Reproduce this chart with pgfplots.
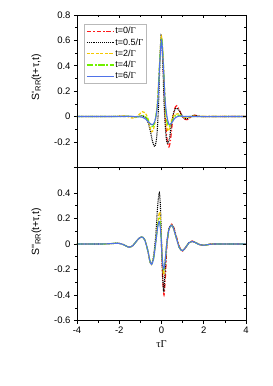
\documentclass[border=0pt]{standalone}
\usepackage{pgfplots}
\pgfplotsset{compat=1.18}
\usepackage{fontspec}
\setmainfont{Liberation Sans}
\newfontfamily\grk{Liberation Serif}
\definecolor{cred}{HTML}{FF1A1A}
\definecolor{cyel}{HTML}{F5C800}
\definecolor{cgrn}{HTML}{70F000}
\definecolor{cblu}{HTML}{4F72E8}
\newcommand{\sub}[1]{\raisebox{-0.3ex}{\fontsize{7.5}{8}\selectfont #1}}
\pgfplotsset{
  base/.style={scale only axis, width=169pt, xmin=-4, xmax=4,
    xtick={-4,-2,0,2,4}, minor x tick num=1, minor y tick num=1,
    major tick length=3pt, minor tick length=1.8pt,
    every tick/.style={black, line width=0.6pt},
    axis line style={line width=0.7pt},
    tick label style={font=\fontsize{9.5}{10}\selectfont},
    label style={font=\fontsize{10.5}{11}\selectfont},
    /pgf/number format/assume math mode=true,
    yticklabel style={/pgf/number format/fixed, /pgf/number format/precision=1},
  },
  mainax/.style={base, tick align=outside, xtick pos=left, ytick pos=left},
  mirror/.style={base, tick align=inside, xtick pos=right, ytick pos=right,
    xticklabels={}, yticklabels={}},
  sred/.style={color=cred, draw=cred, line width=1.2pt, dash pattern=on 4.5pt off 2pt on 1.2pt off 2pt, smooth, tension=0.5},
  sblk/.style={color=black, draw=black, line width=1.1pt, dash pattern=on 1pt off 0.9pt, smooth, tension=0.5},
  syel/.style={color=cyel, draw=cyel, line width=1.2pt, dash pattern=on 3pt off 1.5pt, smooth, tension=0.5},
  sgrn/.style={color=cgrn, draw=cgrn, line width=1.2pt, dash pattern=on 6pt off 2pt on 1.5pt off 2pt, smooth, tension=0.5},
  sblu/.style={color=cblu, draw=cblu, line width=1.1pt, smooth, tension=0.5},
}
\begin{document}
\begin{tikzpicture}
\path[use as bounding box] (0,0) rectangle (273pt,386pt);
% ---------- top panel ----------
\begin{axis}[mainax, at={(77pt,218.7pt)}, anchor=south west, height=152.3pt,
  ymin=-0.4, ymax=0.8, ytick={-0.2,0,0.2,0.4,0.6,0.8}, extra y ticks={-0.4}, extra y tick labels={},
  xticklabels={},
  ylabel={S\textquotesingle\sub{RR}(t+τ,t)},
  ylabel style={at={(ticklabel cs:0.59)}},
  legend style={at={(rel axis cs:0.041,0.941)}, anchor=north west,
    draw=gray!55, line width=0.6pt, inner xsep=2pt, inner ysep=2pt,
    font=\fontsize{9}{10}\selectfont, row sep=1.2pt,
    nodes={inner sep=1pt}},
  legend cell align=left,
  legend image code/.code={\draw[#1] plot coordinates {(0pt,0pt) (13pt,0pt) (27pt,0pt)};},
]
\addplot[sred] coordinates {(0,0.60) (0.05,0.50) (0.1,0.30) (0.15,0.10) (0.2,-0.06) (0.27,-0.19) (0.35,-0.24) (0.43,-0.18) (0.52,-0.04) (0.62,0.06) (0.72,0.085) (0.82,0.06) (0.95,0.01) (1.05,-0.015) (1.2,-0.025) (1.35,-0.01) (1.5,0.008) (1.6,0.01) (1.75,0.003) (2.0,0) (2.5,0) (3,0) (4,0)};
\addlegendentry{t=0/{\grk Γ}}
\addplot[sblk] coordinates {(-4,0) (-3,0) (-2.5,0) (-2,0.002) (-1.7,0.004) (-1.5,0.002) (-1.3,-0.003) (-1.1,0) (-0.95,0.006) (-0.8,0) (-0.65,-0.04) (-0.52,-0.12) (-0.42,-0.2) (-0.31,-0.235) (-0.22,-0.15) (-0.15,0.05) (-0.1,0.3) (-0.05,0.55) (-0.02,0.64) (0.02,0.58) (0.07,0.38) (0.12,0.12) (0.18,-0.08) (0.24,-0.19) (0.3,-0.21) (0.38,-0.17) (0.48,-0.05) (0.6,0.045) (0.72,0.065) (0.85,0.045) (1.0,0) (1.12,-0.018) (1.25,-0.015) (1.4,0.0) (1.55,0.01) (1.7,0.005) (1.9,0) (2.5,0) (4,0)};
\addlegendentry{t=0.5/{\grk Γ}}
\addplot[syel] coordinates {(-4,0) (-2.5,0) (-2.1,0.002) (-1.85,0.005) (-1.6,0.0) (-1.4,-0.012) (-1.25,-0.01) (-1.1,0.01) (-0.9,0.038) (-0.78,0.03) (-0.65,-0.01) (-0.55,-0.08) (-0.46,-0.12) (-0.38,-0.1) (-0.28,-0.02) (-0.2,0.1) (-0.12,0.32) (-0.05,0.55) (0,0.63) (0.05,0.55) (0.12,0.3) (0.2,0.02) (0.26,-0.09) (0.32,-0.115) (0.4,-0.08) (0.5,-0.02) (0.62,0.015) (0.78,0.022) (0.92,0.01) (1.05,-0.005) (1.2,-0.008) (1.4,0) (1.55,0.004) (1.8,0) (4,0)};
\addlegendentry{t=2/{\grk Γ}}
\addplot[sgrn] coordinates {(-4,0) (-2,0) (-1.5,0.002) (-1.2,-0.003) (-1.0,0.003) (-0.85,0.008) (-0.7,-0.01) (-0.58,-0.045) (-0.45,-0.08) (-0.35,-0.06) (-0.25,0.02) (-0.17,0.15) (-0.09,0.42) (0,0.62) (0.08,0.45) (0.16,0.15) (0.24,-0.02) (0.35,-0.08) (0.46,-0.055) (0.58,-0.01) (0.72,0.012) (0.88,0.008) (1.05,-0.003) (1.3,0) (4,0)};
\addlegendentry{t=4/{\grk Γ}}
\addplot[sblu] coordinates {(-4,0) (-2,0) (-1.5,0.001) (-1.1,-0.002) (-0.9,-0.006) (-0.75,-0.02) (-0.6,-0.045) (-0.45,-0.065) (-0.35,-0.05) (-0.26,0.0) (-0.17,0.13) (-0.09,0.4) (0,0.6) (0.09,0.4) (0.17,0.13) (0.26,0.0) (0.36,-0.062) (0.48,-0.05) (0.62,-0.015) (0.78,0.002) (0.95,0.004) (1.2,0) (4,0)};
\addlegendentry{t=6/{\grk Γ}}
\end{axis}
\begin{axis}[mirror, at={(77pt,218.7pt)}, anchor=south west, height=152.3pt,
  ymin=-0.4, ymax=0.8, ytick={-0.4,-0.2,0,0.2,0.4,0.6,0.8}]
\end{axis}
% ---------- bottom panel ----------
\begin{axis}[mainax, at={(77pt,65.3pt)}, anchor=south west, height=153.4pt,
  ymin=-0.6, ymax=0.6, ytick={-0.6,-0.4,-0.2,0,0.2,0.4}, extra y ticks={0.6}, extra y tick labels={},
  xticklabels={-4,-2,0,2,4},
  xlabel={{\grk τΓ}},
  ylabel={S\textquotesingle\textquotesingle\sub{RR}(t+τ,t)},
  ylabel style={at={(ticklabel cs:0.58)}},
]
\addplot[sred] coordinates {(0,0.0) (0.05,-0.25) (0.12,-0.4) (0.19,-0.24) (0.26,0.0) (0.36,0.12) (0.48,0.155) (0.58,0.13) (0.72,0.05) (0.87,-0.03) (1.0,-0.055) (1.15,-0.025) (1.3,0.012) (1.45,0.023) (1.6,0.014) (1.8,-0.004) (2.0,-0.01) (2.2,-0.005) (2.5,0) (4,0)};
\addplot[sblk] coordinates {(-4,0) (-3,0) (-2.6,0.001) (-2.3,0.004) (-2.05,0.006) (-1.8,-0.005) (-1.55,-0.025) (-1.35,-0.012) (-1.15,0.03) (-0.95,0.055) (-0.8,0.035) (-0.65,-0.05) (-0.55,-0.14) (-0.47,-0.155) (-0.38,-0.1) (-0.28,0.05) (-0.18,0.3) (-0.1,0.4) (-0.04,0.25) (0.02,-0.1) (0.1,-0.37) (0.17,-0.22) (0.25,0.0) (0.35,0.12) (0.47,0.15) (0.57,0.13) (0.7,0.05) (0.85,-0.03) (1.0,-0.052) (1.15,-0.025) (1.3,0.01) (1.45,0.02) (1.6,0.012) (1.8,-0.005) (2.0,-0.01) (2.2,-0.005) (2.5,0) (4,0)};
\addplot[syel] coordinates {(-4,0) (-3,0) (-2.6,0.001) (-2.3,0.004) (-2.05,0.006) (-1.8,-0.005) (-1.55,-0.025) (-1.35,-0.012) (-1.15,0.03) (-0.95,0.055) (-0.8,0.035) (-0.65,-0.05) (-0.55,-0.13) (-0.47,-0.16) (-0.38,-0.11) (-0.28,0.0) (-0.18,0.16) (-0.08,0.25) (-0.01,0.05) (0.04,-0.12) (0.1,-0.24) (0.17,-0.14) (0.25,0.0) (0.35,0.11) (0.45,0.145) (0.55,0.13) (0.7,0.05) (0.85,-0.03) (1.0,-0.052) (1.15,-0.025) (1.3,0.01) (1.45,0.02) (1.6,0.012) (1.8,-0.005) (2.0,-0.01) (2.2,-0.005) (2.5,0) (4,0)};
\addplot[sgrn] coordinates {(-4,0) (-3,0) (-2.6,0.001) (-2.3,0.004) (-2.05,0.006) (-1.8,-0.005) (-1.55,-0.025) (-1.35,-0.012) (-1.15,0.03) (-0.95,0.055) (-0.8,0.035) (-0.65,-0.05) (-0.55,-0.13) (-0.47,-0.16) (-0.38,-0.12) (-0.28,0.0) (-0.18,0.14) (-0.09,0.2) (-0.02,0.06) (0.03,-0.1) (0.1,-0.2) (0.17,-0.14) (0.25,0.0) (0.35,0.11) (0.45,0.145) (0.55,0.13) (0.7,0.05) (0.85,-0.03) (1.0,-0.052) (1.15,-0.025) (1.3,0.01) (1.45,0.02) (1.6,0.012) (1.8,-0.005) (2.0,-0.01) (2.2,-0.005) (2.5,0) (4,0)};
\addplot[sblu] coordinates {(-4,0) (-3,0) (-2.6,0.001) (-2.3,0.004) (-2.05,0.006) (-1.8,-0.005) (-1.55,-0.025) (-1.35,-0.012) (-1.15,0.03) (-0.95,0.055) (-0.8,0.035) (-0.65,-0.05) (-0.55,-0.13) (-0.47,-0.16) (-0.38,-0.12) (-0.28,0.0) (-0.18,0.13) (-0.1,0.175) (-0.03,0.08) (0.03,-0.1) (0.09,-0.195) (0.16,-0.15) (0.25,0.0) (0.35,0.11) (0.45,0.145) (0.55,0.13) (0.7,0.05) (0.85,-0.03) (1.0,-0.052) (1.15,-0.025) (1.3,0.01) (1.45,0.02) (1.6,0.012) (1.8,-0.005) (2.0,-0.01) (2.2,-0.005) (2.5,0) (4,0)};
\end{axis}
\begin{axis}[mirror, at={(77pt,65.3pt)}, anchor=south west, height=153.4pt,
  ymin=-0.6, ymax=0.6, ytick={-0.6,-0.4,-0.2,0,0.2,0.4,0.6}]
\end{axis}
\end{tikzpicture}
\end{document}
